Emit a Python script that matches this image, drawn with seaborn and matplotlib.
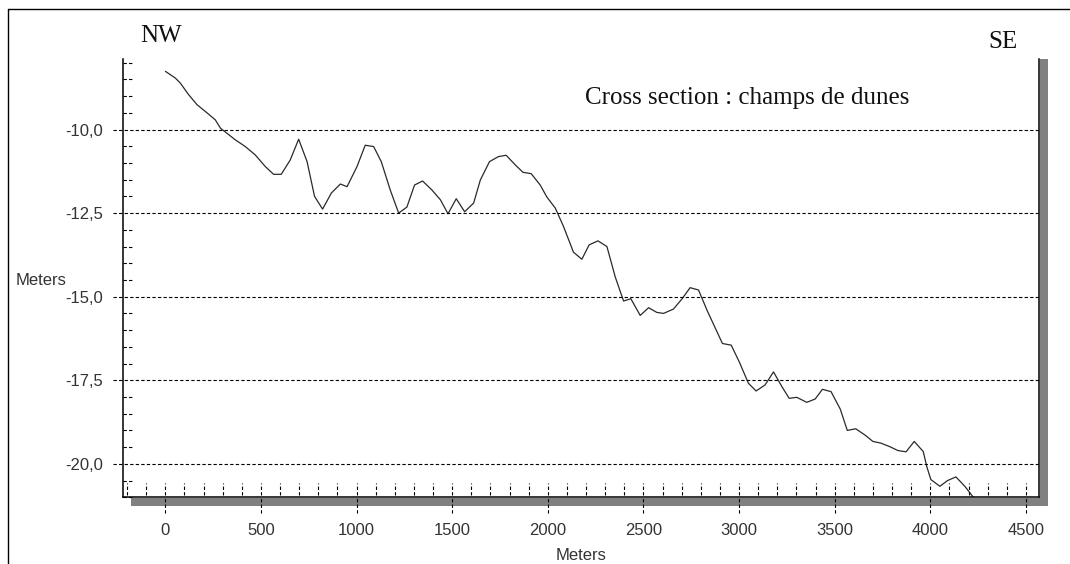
import numpy as np
import matplotlib
matplotlib.use("Agg")
import matplotlib.pyplot as plt
import seaborn as sns
from matplotlib.patches import Rectangle
from matplotlib.lines import Line2D
from matplotlib.ticker import FuncFormatter, FixedLocator

# Profile along the transect: distance (m) and elevation (m)
distance = [0, 52, 78, 122, 166, 209, 261, 288, 366, 418, 470, 523, 566, 606,
            653, 697, 741, 780, 822, 868, 915, 950, 1002, 1045, 1089, 1129,
            1176, 1220, 1263, 1303, 1345, 1394, 1438, 1478, 1521, 1565, 1612,
            1647, 1695, 1742, 1782, 1830, 1870, 1913, 1960, 1995, 2039, 2082,
            2134, 2178, 2216, 2262, 2309, 2352, 2396, 2434, 2483, 2527, 2570,
            2605, 2657, 2701, 2744, 2788, 2832, 2913, 2959, 3001, 3049, 3089,
            3136, 3180, 3224, 3262, 3302, 3354, 3398, 3436, 3481, 3529, 3566,
            3610, 3659, 3700, 3742, 3790, 3830, 3873, 3916, 3963, 3982, 4003,
            4050, 4090, 4134, 4182, 4225, 4260]
elevation = [-8.26, -8.46, -8.61, -8.96, -9.26, -9.46, -9.71, -9.96, -10.31,
             -10.51, -10.76, -11.11, -11.34, -11.34, -10.91, -10.29, -10.96,
             -12.00, -12.38, -11.90, -11.63, -11.71, -11.11, -10.47, -10.51,
             -10.96, -11.81, -12.50, -12.32, -11.66, -11.54, -11.81, -12.10,
             -12.52, -12.07, -12.46, -12.20, -11.51, -10.96, -10.81, -10.77,
             -11.06, -11.28, -11.32, -11.66, -12.02, -12.35, -12.90, -13.67,
             -13.88, -13.45, -13.33, -13.50, -14.40, -15.13, -15.06, -15.56,
             -15.33, -15.47, -15.50, -15.37, -15.07, -14.73, -14.80, -15.40,
             -16.40, -16.45, -16.95, -17.59, -17.82, -17.64, -17.25, -17.69,
             -18.04, -18.01, -18.16, -18.06, -17.77, -17.84, -18.36, -19.00,
             -18.95, -19.14, -19.33, -19.38, -19.49, -19.60, -19.64, -19.33,
             -19.63, -20.09, -20.47, -20.67, -20.50, -20.39, -20.68, -21.00,
             -21.25]

x_major = [0, 500, 1000, 1500, 2000, 2500, 3000, 3500, 4000, 4500]
x_minor = list(range(-200, 4600, 100))
y_major = [-10.0, -12.5, -15.0, -17.5, -20.0]
y_minor = list(np.arange(-21.0, -7.9, 0.5))

title = "Cross section : champs de dunes"
left_tag, right_tag = "NW", "SE"
axis_label = "Meters"

sns.set_style("white")
plt.rcParams["font.family"] = ["Liberation Sans", "DejaVu Sans"]

W, H = 1070, 564
fig = plt.figure(figsize=(W / 100, H / 100), dpi=100)
fig.patch.set_facecolor("white")

ax_l, ax_r, ax_t, ax_b = 123.3, 1039.3, 59.3, 497.3
ax = fig.add_axes([ax_l / W, 1 - ax_b / H, (ax_r - ax_l) / W, (ax_b - ax_t) / H])
ax.set_facecolor("white")

# drop shadow to the right and below the plot frame
shadow = "#808080"
fig.add_artist(Rectangle(((ax_r + 0.5) / W, 1 - (ax_b + 8.5) / H), 8.5 / W,
                         (ax_b + 8.5 - ax_t) / H, transform=fig.transFigure,
                         facecolor=shadow, edgecolor="none", zorder=0))
fig.add_artist(Rectangle(((ax_l + 8) / W, 1 - (ax_b + 8.5) / H),
                         (ax_r + 9 - ax_l - 8) / W, 8 / H,
                         transform=fig.transFigure, facecolor=shadow,
                         edgecolor="none", zorder=0))

# outer frame (top and left edges)
fig.add_artist(Line2D([8 / W, 1], [1 - 9 / H, 1 - 9 / H], transform=fig.transFigure,
                      color="black", lw=1.0))
fig.add_artist(Line2D([8 / W, 8 / W], [0, 1 - 9 / H], transform=fig.transFigure,
                      color="black", lw=1.0))

sns.lineplot(x=distance, y=elevation, ax=ax, color="#2a2a2a", lw=0.9,
             estimator=None, sort=False)

ax.set_xlim(-220, 4570)
ax.set_ylim(-21.0, -7.9)

for side in ["left", "bottom", "right"]:
    ax.spines[side].set_visible(True)
    ax.spines[side].set_color("black")
    ax.spines[side].set_linewidth(1.1)
ax.spines["top"].set_visible(False)

dash = (0, (3, 2))
plot_w = ax_r - ax_l
plot_h = ax_b - ax_t

# horizontal dashed gridlines that run out past the left axis as ticks
ax.hlines(y_major, -10 / plot_w, 1, transform=ax.get_yaxis_transform(),
          colors="black", linestyles=dash, lw=0.8, clip_on=False)
# short dashed minor ticks inside the left axis
y_min_only = [v for v in y_minor if all(abs(v - m) > 1e-6 for m in y_major)]
ax.hlines(y_min_only, 0, 10 / plot_w, transform=ax.get_yaxis_transform(),
          colors="black", linestyles=dash, lw=0.8, clip_on=False)
# dashed ticks along the bottom axis: inside for every 100 m, outside at majors
ax.vlines(x_minor, 2 / plot_h, 14 / plot_h, transform=ax.get_xaxis_transform(),
          colors="black", linestyles=dash, lw=0.8, clip_on=False)
ax.vlines(x_major, -16 / plot_h, -1 / plot_h, transform=ax.get_xaxis_transform(),
          colors="black", linestyles=dash, lw=0.8, clip_on=False)

ax.xaxis.set_major_locator(FixedLocator(x_major))
ax.yaxis.set_major_locator(FixedLocator(y_major))
ax.xaxis.set_major_formatter(FuncFormatter(lambda v, p: f"{int(v)}"))
ax.yaxis.set_major_formatter(FuncFormatter(lambda v, p: f"{v:.1f}".replace(".", ",")))
ax.tick_params(axis="both", length=0, labelsize=12, colors="#333333")
ax.tick_params(axis="y", pad=14.5)
ax.tick_params(axis="x", pad=18.5)

ax.set_xlabel(axis_label, fontsize=12, color="#333333")
ax.xaxis.set_label_coords((581 - ax_l) / plot_w, (ax_b - 555) / plot_h)
ax.xaxis.label.set_va("center")
ax.set_ylabel(axis_label, fontsize=12, color="#333333", rotation=0,
              ha="center", va="center")
ax.yaxis.set_label_coords((41.5 - ax_l) / plot_w, (ax_b - 280) / plot_h)

serif = ["Liberation Serif", "DejaVu Serif"]
fig.text(140 / W, 1 - 36 / H, left_tag, family=serif, fontsize=18,
         ha="left", va="center", color="#111111")
fig.text(1018 / W, 1 - 42 / H, right_tag, family=serif, fontsize=18,
         ha="right", va="center", color="#111111")
fig.text(585 / W, 1 - 98 / H, title, family=serif, fontsize=18,
         ha="left", va="center", color="#111111")

fig.savefig("out.png", dpi=100, facecolor="white")
